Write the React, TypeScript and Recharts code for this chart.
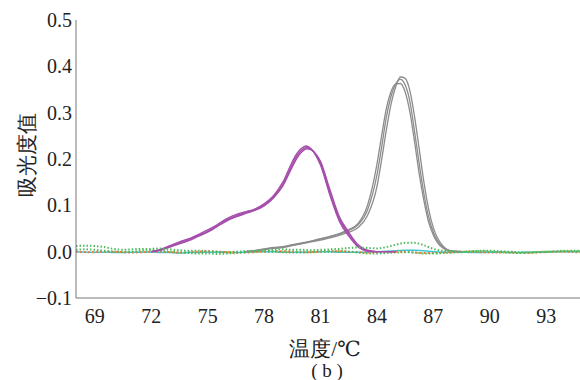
import { LineChart, Line, XAxis, YAxis } from 'recharts'

// baseline curves share this temperature grid, °C
const baseTemps = [
  68, 68.5, 69, 69.5, 70, 70.5, 71, 71.5, 72, 72.5,
  73, 73.5, 74, 74.5, 75, 75.5, 76, 76.5, 77, 77.5,
  78, 78.5, 79, 79.5, 80, 80.5, 81, 81.5, 82, 82.5,
  83, 83.5, 84, 84.5, 85, 85.5, 86, 86.5, 87, 87.5,
  88, 88.5, 89, 89.5, 90, 90.5, 91, 91.5, 92, 92.5,
  93, 93.5, 94, 94.5, 95,
]
const greenA = [
  0.012, 0.013, 0.012, 0.010, 0.006, 0.004, 0.005, 0.006, 0.006, 0.007,
  0.005, 0.003, 0.002, 0.002, 0.001, 0.000, -0.001, 0.000, 0.001, 0.002,
  0.003, 0.004, 0.005, 0.004, 0.004, 0.003, 0.004, 0.005, 0.006, 0.008,
  0.009, 0.008, 0.007, 0.010, 0.015, 0.019, 0.019, 0.014, 0.006, 0.002,
  0.001, 0.000, 0.001, 0.002, 0.002, 0.001, 0.000, -0.001, -0.002, -0.001,
  0.000, 0.001, 0.002, 0.002, 0.002,
]
const greenB = [
  0.004, 0.005, 0.004, 0.002, 0.000, -0.001, 0.000, 0.002, 0.003, 0.002,
  0.000, -0.002, -0.003, -0.004, -0.004, -0.005, -0.004, -0.003, -0.001, 0.000,
  0.001, 0.000, -0.001, -0.002, -0.002, -0.001, 0.000, 0.000, 0.001, 0.000,
  -0.002, -0.004, -0.004, -0.003, -0.002, -0.001, -0.002, -0.004, -0.004, -0.003,
  -0.002, -0.001, 0.000, 0.001, 0.000, -0.001, -0.002, -0.003, -0.002, -0.001,
  0.000, 0.000, 0.001, 0.001, 0.001,
]
const orange = [
  0.000, -0.001, -0.001, 0.000, 0.000, -0.001, -0.002, -0.001, 0.000, 0.000,
  -0.001, -0.002, -0.001, 0.000, 0.001, 0.000, -0.001, -0.002, -0.002, -0.001,
  0.000, 0.001, 0.001, 0.000, -0.001, -0.001, 0.000, 0.001, 0.001, 0.000,
  -0.001, -0.002, -0.002, -0.001, 0.000, 0.000, -0.002, -0.003, -0.003, -0.002,
  -0.001, 0.000, 0.000, -0.001, -0.002, -0.002, -0.001, -0.003, -0.003, -0.002,
  -0.001, 0.000, 0.000, -0.001, -0.001,
]
const cyan = [
  0.000, -0.001, -0.001, -0.001, -0.002, -0.002, -0.001, -0.001, -0.001, -0.002,
  -0.002, -0.003, -0.002, -0.002, -0.001, -0.001, -0.002, -0.002, -0.001, 0.000,
  0.000, 0.000, -0.001, -0.001, -0.001, -0.001, 0.000, 0.000, -0.001, -0.001,
  -0.001, -0.001, 0.000, 0.001, 0.002, 0.003, 0.003, 0.002, 0.000, -0.001,
  -0.001, -0.001, -0.002, -0.002, -0.001, -0.001, -0.002, -0.002, -0.001, -0.001,
  -0.001, 0.000, 0.000, 0.000, 0.000,
]

// purple replicates (peak ~80.3 °C)
const purpleTemps = [
  72, 72.5, 73, 73.5, 74, 74.5, 75, 75.5, 76, 76.5,
  77, 77.5, 78, 78.5, 79, 79.5, 79.75, 80, 80.25, 80.5,
  80.75, 81, 81.5, 82, 82.5, 83, 83.5, 84, 84.5, 85,
]
const purpleA = [
  0.000, 0.004, 0.012, 0.019, 0.026, 0.035, 0.044, 0.055, 0.068, 0.077,
  0.084, 0.090, 0.100, 0.118, 0.145, 0.188, 0.207, 0.219, 0.225, 0.221,
  0.210, 0.192, 0.128, 0.071, 0.038, 0.012, 0.002, 0.000, 0.000, 0.000,
]
const purpleB = [
  0.000, 0.003, 0.010, 0.017, 0.024, 0.033, 0.042, 0.054, 0.066, 0.075,
  0.082, 0.089, 0.099, 0.116, 0.142, 0.183, 0.202, 0.215, 0.222, 0.220,
  0.211, 0.195, 0.134, 0.076, 0.042, 0.015, 0.003, 0.000, 0.000, 0.000,
]
const purpleC = [
  0.000, 0.005, 0.013, 0.021, 0.028, 0.037, 0.047, 0.058, 0.071, 0.080,
  0.086, 0.092, 0.103, 0.121, 0.150, 0.194, 0.212, 0.223, 0.228, 0.222,
  0.208, 0.187, 0.122, 0.066, 0.034, 0.010, 0.001, 0.000, 0.000, 0.000,
]

// gray replicates (peak ~85.3 °C)
const grayTemps = [
  77, 77.5, 78, 78.5, 79, 79.5, 80, 80.5, 81, 81.5,
  82, 82.5, 83, 83.5, 84, 84.25, 84.5, 84.75, 85, 85.25,
  85.5, 85.75, 86, 86.25, 86.5, 86.75, 87, 87.5, 88, 88.5,
]
const grayA = [
  0.000, 0.002, 0.005, 0.008, 0.010, 0.014, 0.018, 0.022, 0.027, 0.032,
  0.038, 0.046, 0.058, 0.090, 0.165, 0.225, 0.290, 0.335, 0.362, 0.372,
  0.360, 0.325, 0.260, 0.190, 0.125, 0.075, 0.042, 0.010, 0.001, 0.000,
]
const grayB = [
  0.000, 0.001, 0.004, 0.007, 0.009, 0.013, 0.017, 0.021, 0.025, 0.030,
  0.035, 0.042, 0.052, 0.078, 0.140, 0.198, 0.262, 0.318, 0.356, 0.377,
  0.374, 0.348, 0.292, 0.222, 0.150, 0.092, 0.052, 0.013, 0.001, 0.000,
]
const grayC = [
  0.000, 0.002, 0.006, 0.009, 0.011, 0.015, 0.019, 0.023, 0.028, 0.033,
  0.039, 0.048, 0.061, 0.100, 0.188, 0.250, 0.308, 0.345, 0.362, 0.363,
  0.345, 0.302, 0.238, 0.168, 0.110, 0.064, 0.036, 0.008, 0.001, 0.000,
]

const xTicks = [69, 72, 75, 78, 81, 84, 87, 90, 93]
const yTicks = [-0.1, 0, 0.1, 0.2, 0.3, 0.4, 0.5]

const toRows = (xs: number[], ys: number[]) => xs.map((t, i) => ({ t, v: ys[i] }))

const serif = 'Liberation Serif, DejaVu Serif, serif'
const tickStyle = { fontSize: 20, fill: '#222', fontFamily: serif }

function fmtY(v: number) {
  if (v < 0) return '\u2212' + Math.abs(v).toFixed(1)
  return v.toFixed(1)
}

const lineCommon = { type: 'monotone' as const, dataKey: 'v', dot: false as const, isAnimationActive: false }

export default function App() {
  return (
    <div style={{ position: 'absolute', left: 0, top: 0, width: 580, height: 380, background: '#fff', fontFamily: serif }}>
      <LineChart width={580} height={380} margin={{ top: 20, right: 0, bottom: 52, left: 0 }}>
        <XAxis
          dataKey="t"
          type="number"
          domain={[68, 94.8]}
          allowDataOverflow
          ticks={xTicks}
          tickLine={false}
          tickMargin={5}
          height={30}
          stroke="#777"
          tick={tickStyle}
        />
        <YAxis
          type="number"
          domain={[-0.1, 0.5]}
          ticks={yTicks}
          tickFormatter={fmtY}
          tickLine={false}
          tickSize={2}
          tickMargin={2}
          width={76}
          stroke="#777"
          tick={tickStyle}
        />
        <Line {...lineCommon} data={toRows(baseTemps, cyan)} stroke="#3cc6d6" strokeWidth={1.5} />
        <Line {...lineCommon} data={toRows(baseTemps, orange)} stroke="#f07a40" strokeWidth={2} strokeDasharray="2 2" />
        <Line {...lineCommon} data={toRows(baseTemps, greenB)} stroke="#4cbb5c" strokeWidth={2} strokeDasharray="1.5 2" />
        <Line {...lineCommon} data={toRows(grayTemps, grayA)} stroke="#8c8c8c" strokeWidth={1.3} />
        <Line {...lineCommon} data={toRows(grayTemps, grayB)} stroke="#8c8c8c" strokeWidth={1.3} />
        <Line {...lineCommon} data={toRows(grayTemps, grayC)} stroke="#8c8c8c" strokeWidth={1.3} />
        <Line {...lineCommon} data={toRows(purpleTemps, purpleA)} stroke="#a54dab" strokeWidth={1.4} />
        <Line {...lineCommon} data={toRows(purpleTemps, purpleB)} stroke="#a54dab" strokeWidth={1.4} />
        <Line {...lineCommon} data={toRows(purpleTemps, purpleC)} stroke="#a54dab" strokeWidth={1.4} />
        <Line {...lineCommon} data={toRows(baseTemps, greenA)} stroke="#4cbb5c" strokeWidth={2} strokeDasharray="1.5 2" />
      </LineChart>
      <div
        style={{
          position: 'absolute', left: 27, top: 155, transform: 'translate(-50%, -50%) rotate(-90deg)',
          fontSize: 21, color: '#222', whiteSpace: 'nowrap', lineHeight: 1,
        }}
      >
        吸光度值
      </div>
      <div
        style={{
          position: 'absolute', left: 325, top: 349, transform: 'translate(-50%, -50%)',
          fontSize: 21, color: '#222', whiteSpace: 'nowrap', lineHeight: 1,
        }}
      >
        温度/℃
      </div>
      <div
        style={{
          position: 'absolute', left: 327, top: 370, transform: 'translate(-50%, -50%)',
          fontSize: 19, color: '#222', whiteSpace: 'pre', lineHeight: 1,
        }}
      >
        ( b )
      </div>
    </div>
  )
}
